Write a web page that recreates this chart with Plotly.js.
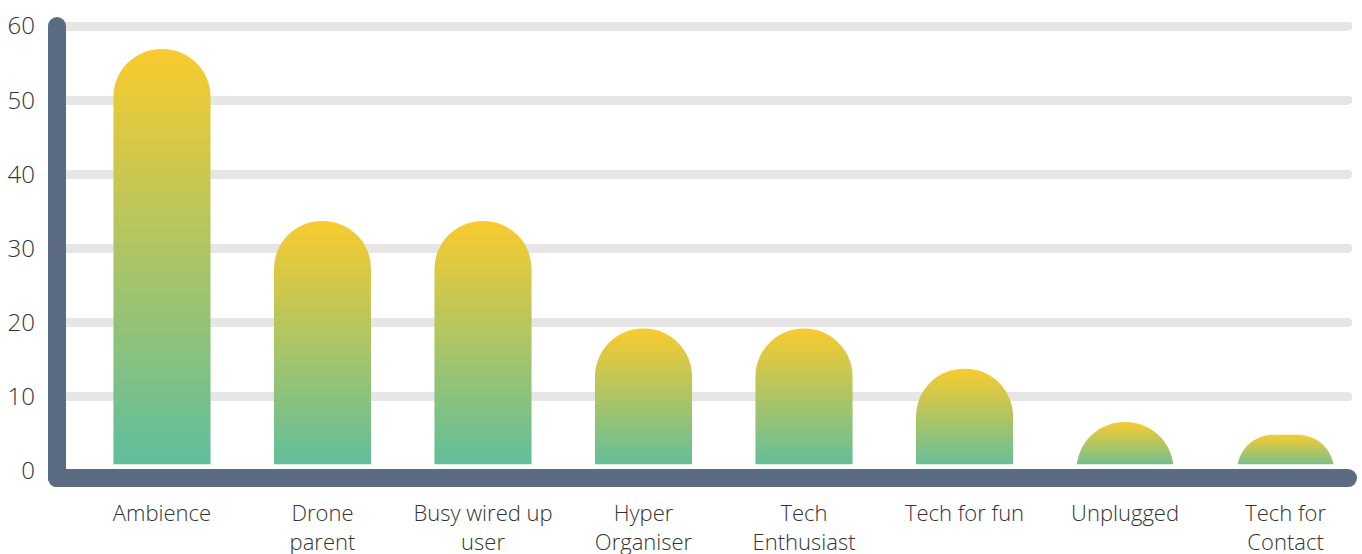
<!DOCTYPE html>
<html>
<head>
<meta charset="utf-8">
<script src="https://cdn.plot.ly/plotly-3.0.1.min.js"></script>
<style>
  html, body { margin: 0; padding: 0; background: #ffffff; }
  #chart { width: 1362px; height: 554px; }
  .shapelayer path { stroke-linecap: round; }
  .gridlayer path { stroke-linecap: round; }
</style>
</head>
<body>
<div id="chart"></div>
<script>
// ---- data ----
const categories = ["Ambience", "Drone<br>parent", "Busy wired up<br>user", "Hyper<br>Organiser", "Tech<br>Enthusiast", "Tech for fun", "Unplugged", "Tech for<br>Contact"];
const values = [56.9, 33.7, 33.7, 19.2, 19.2, 13.8, 6.6, 4.9];
const yTicks = [0, 10, 20, 30, 40, 50, 60];

// ---- style ----
const AXIS_COLOR = "#5b6b83";
const GRID_COLOR = "#e6e6e6";
const TEXT_COLOR = "#333333";
const GRAD_TOP = "#f9cb2d";
const GRAD_BOTTOM = "#5cbe9f";
const Y_RANGE = [0, 60.27];
const GAP_TOP = 0.9;      // white gap between bars and the x axis line
const AXIS_Y = -0.95;     // centre of the thick x axis line (axis units)
const FONT = "Open Sans, Lato, sans-serif";
const toPaperY = v => (v - Y_RANGE[0]) / (Y_RANGE[1] - Y_RANGE[0]);

const trace = {
  type: "bar",
  x: categories.map((c, i) => i),
  y: values,
  width: 0.605,
  marker: { color: "#aac467", cornerradius: "50%", line: { width: 0 } },
  hoverinfo: "skip"
};

const layout = {
  width: 1362,
  height: 554,
  margin: { l: 57, r: 14, t: 24, b: 83 },
  paper_bgcolor: "#ffffff",
  plot_bgcolor: "#ffffff",
  showlegend: false,
  font: { family: FONT, size: 22, color: TEXT_COLOR, weight: 300 },
  xaxis: {
    type: "linear",
    range: [-0.654, 7.389],
    tickvals: categories.map((c, i) => i),
    ticktext: categories,
    showgrid: false,
    zeroline: false,
    showline: false,
    ticks: "",
    ticklabelstandoff: 27,
    tickfont: { family: FONT, size: 22, color: TEXT_COLOR, weight: 300 },
    fixedrange: true
  },
  yaxis: {
    range: Y_RANGE,
    tickvals: yTicks,
    ticktext: yTicks.map(String),
    showgrid: true,
    gridcolor: GRID_COLOR,
    gridwidth: 9,
    zeroline: false,
    showline: false,
    ticks: "",
    ticklabelstandoff: 21,
    tickfont: { family: FONT, size: 24, color: TEXT_COLOR, weight: 300 },
    fixedrange: true
  },
  shapes: [
    { type: "rect", xref: "paper", yref: "y", x0: 0, x1: 1, y0: -0.5, y1: GAP_TOP,
      fillcolor: "#ffffff", line: { width: 0 }, layer: "above" },
    { type: "line", xref: "paper", yref: "paper", x0: 0, x1: 0, y0: toPaperY(60), y1: toPaperY(AXIS_Y),
      line: { color: AXIS_COLOR, width: 18 } },
    { type: "line", xref: "paper", yref: "paper", x0: 0, x1: 1, y0: toPaperY(AXIS_Y), y1: toPaperY(AXIS_Y),
      line: { color: AXIS_COLOR, width: 18 } }
  ]
};

function applyGradient(gd) {
  const svg = gd.querySelector(".main-svg");
  if (!svg) return;
  const ns = "http://www.w3.org/2000/svg";
  let defs = svg.querySelector("defs");
  if (!defs) { defs = document.createElementNS(ns, "defs"); svg.insertBefore(defs, svg.firstChild); }
  if (!svg.querySelector("#barGrad")) {
    const lg = document.createElementNS(ns, "linearGradient");
    lg.setAttribute("id", "barGrad");
    lg.setAttribute("x1", "0"); lg.setAttribute("y1", "1");
    lg.setAttribute("x2", "0"); lg.setAttribute("y2", "0");
    const s1 = document.createElementNS(ns, "stop");
    s1.setAttribute("offset", "0"); s1.setAttribute("stop-color", GRAD_BOTTOM);
    const s2 = document.createElementNS(ns, "stop");
    s2.setAttribute("offset", "1"); s2.setAttribute("stop-color", GRAD_TOP);
    lg.appendChild(s1); lg.appendChild(s2);
    defs.appendChild(lg);
  }
  gd.querySelectorAll(".trace.bars .point path").forEach(p => {
    p.style.fill = "url(#barGrad)";
  });
}

const gd = document.getElementById("chart");
Plotly.newPlot(gd, [trace], layout, { displayModeBar: false, staticPlot: true }).then(() => {
  applyGradient(gd);
  gd.on("plotly_afterplot", () => applyGradient(gd));
});
</script>
</body>
</html>
